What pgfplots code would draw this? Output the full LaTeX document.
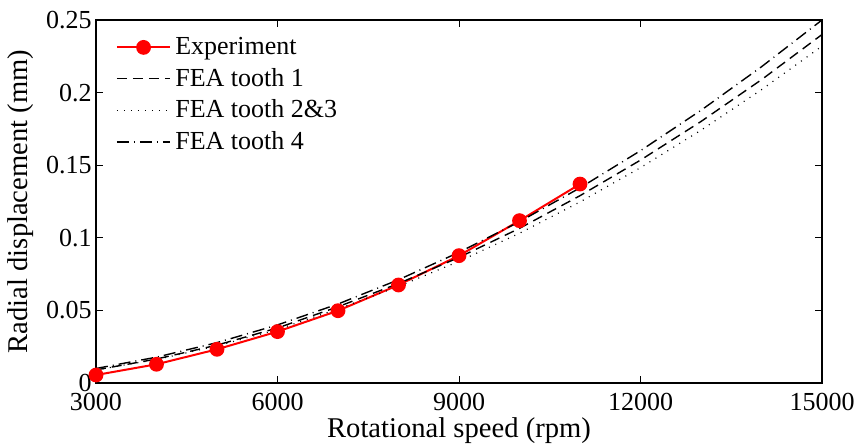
\documentclass[border=0pt]{standalone}
\usepackage{pgfplots}
\pgfplotsset{compat=1.18}
\usepackage{fontspec}
\setmainfont{Liberation Serif}
\begin{document}
\begin{tikzpicture}
\useasboundingbox (0,0) rectangle (428.5pt,222pt);
\begin{axis}[
  at={(48pt,30.5pt)}, anchor=south west,
  scale only axis, width=363pt, height=181.5pt,
  xmin=3000, xmax=15000, ymin=0, ymax=0.25,
  xtick={3000,6000,9000,12000,15000},
  ytick={0,0.05,0.1,0.15,0.2,0.25},
  scaled x ticks=false, scaled y ticks=false,
  /pgf/number format/assume math mode=true,
  xticklabel style={/pgf/number format/1000 sep={}, yshift=-1.5pt},
  yticklabel style={/pgf/number format/fixed, /pgf/number format/precision=2, xshift=1.3pt},
  tick align=inside, major tick length=3.5pt,
  axis line style={line width=0.6pt},
  every tick/.style={line width=0.5pt, black},
  tick label style={font=\fontsize{13}{15.5}\selectfont},
  xlabel={Rotational speed (rpm)},
  ylabel={Radial displacement (mm)},
  xlabel style={at={(axis description cs:0.5,-0.150)}, anchor=base, font=\fontsize{14.3}{17}\selectfont},
  ylabel style={at={(axis description cs:-0.095,0.5)}, anchor=base, rotate=0, font=\fontsize{14.3}{17}\selectfont},
  legend style={at={(axis description cs:0.024,0.97)}, anchor=north west, draw=none, fill=none,
    font=\fontsize{13}{15.5}\selectfont, row sep=1.3pt, inner sep=1pt},
  legend cell align=left,
  legend image code/.code={\draw[mark repeat=2,mark phase=2,#1] plot coordinates {(0cm,0cm) (0.47cm,0cm) (0.94cm,0cm)};},
]
\addplot[red, line width=1pt, mark=*, mark size=3.2pt, mark options={fill=red, draw=red}] coordinates {
(3000,0.0055) (4000,0.0129) (5000,0.0232) (6000,0.0354) (7000,0.0498)
(8000,0.0675) (9000,0.0877) (10000,0.1118) (11000,0.1370)};
\addlegendentry{Experiment}
\addplot[black, line width=0.7pt, dash pattern=on 5pt off 3pt] coordinates {
(3000,0.0090) (4000,0.0165) (5000,0.0261) (6000,0.0379) (7000,0.0525)
(8000,0.0685) (9000,0.0865) (10000,0.1065) (11000,0.1290) (12000,0.1535)
(13000,0.1801) (14000,0.2089) (15000,0.2400)};
\addlegendentry{FEA tooth 1}
\addplot[black, line width=0.6pt, dash pattern=on 0.5pt off 3pt] coordinates {
(3000,0.0090) (4000,0.0162) (5000,0.0255) (6000,0.0369) (7000,0.0510)
(8000,0.0665) (9000,0.0838) (10000,0.1031) (11000,0.1247) (12000,0.1483)
(13000,0.1741) (14000,0.2020) (15000,0.2320)};
\addlegendentry{FEA tooth 2\&3}
\addplot[black, line width=0.7pt, dash pattern=on 6pt off 2.5pt on 0.5pt off 2.5pt] coordinates {
(3000,0.0100) (4000,0.0178) (5000,0.0278) (6000,0.0400) (7000,0.0544)
(8000,0.0711) (9000,0.0900) (10000,0.1111) (11000,0.1344) (12000,0.1600)
(13000,0.1878) (14000,0.2178) (15000,0.2500)};
\addlegendentry{FEA tooth 4}
\end{axis}
\end{tikzpicture}
\end{document}
